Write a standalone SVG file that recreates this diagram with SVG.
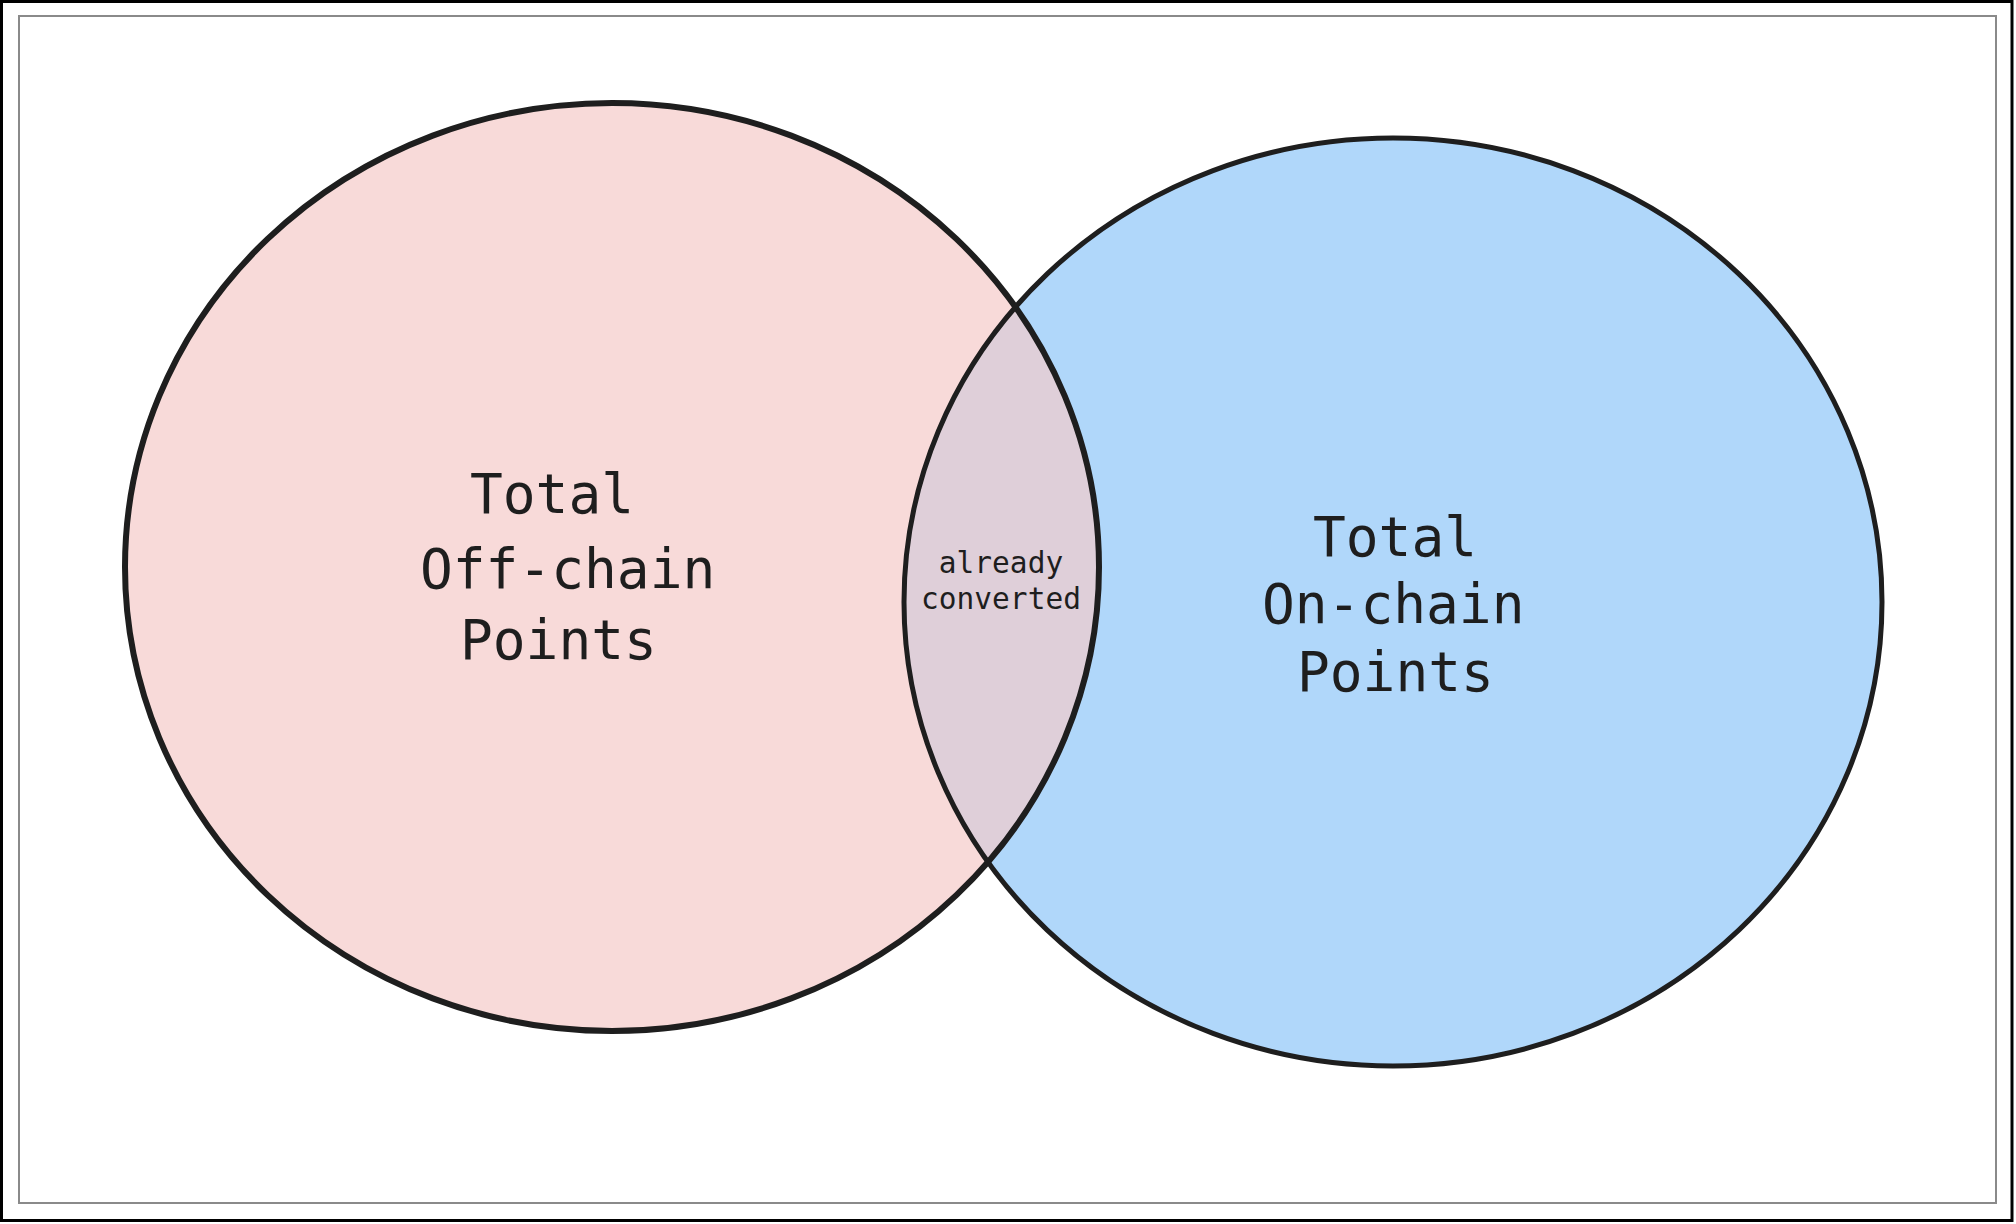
<svg xmlns="http://www.w3.org/2000/svg" width="2016" height="1224" viewBox="0 0 2016 1224">
  <style>
    .big { font-family: "DejaVu Sans Mono", "Liberation Mono", monospace; font-size: 54.5px; fill: #1e1e1e; }
    .small { font-family: "DejaVu Sans Mono", "Liberation Mono", monospace; font-size: 29.5px; fill: #1e1e1e; text-anchor: middle; }
    .outline { fill: none; stroke: #1e1e1e; }
  </style>
  <defs>
    <clipPath id="clipLeft">
      <ellipse cx="612" cy="567" rx="487" ry="464"/>
    </clipPath>
  </defs>
  <rect x="0" y="0" width="2016" height="1224" fill="#ffffff"/>
  <rect id="frame-outer" x="1.5" y="1.5" width="2010.5" height="1219" fill="none" stroke="#000000" stroke-width="3"/>
  <rect id="frame-inner" x="19" y="16" width="1977" height="1187" fill="none" stroke="#8a8a8a" stroke-width="2"/>

  <g id="offchain">
    <ellipse cx="612" cy="567" rx="487" ry="464" fill="#f8dad9"/>
  </g>
  <g id="onchain">
    <ellipse cx="1393" cy="602" rx="489" ry="464" fill="#b0d7fa"/>
  </g>
  <g id="overlap">
    <ellipse cx="1393" cy="602" rx="489" ry="464" fill="#dfcfd9" clip-path="url(#clipLeft)"/>
  </g>
  <g id="outlines">
    <ellipse class="outline" cx="612" cy="567" rx="487" ry="464" stroke-width="6"/>
    <ellipse class="outline" cx="1393" cy="602" rx="489" ry="464" stroke-width="5"/>
  </g>

  <g id="offchain-label">
    <text class="big" x="470" y="513">Total</text>
    <text class="big" x="420" y="588">Off-chain</text>
    <text class="big" x="460" y="659">Points</text>
  </g>
  <g id="onchain-label">
    <text class="big" x="1313" y="556">Total</text>
    <text class="big" x="1262" y="623">On-chain</text>
    <text class="big" x="1297" y="691">Points</text>
  </g>
  <g id="overlap-label">
    <text class="small" x="1001" y="573">already</text>
    <text class="small" x="1001" y="609">converted</text>
  </g>
  <g id="connectors"/>
</svg>
